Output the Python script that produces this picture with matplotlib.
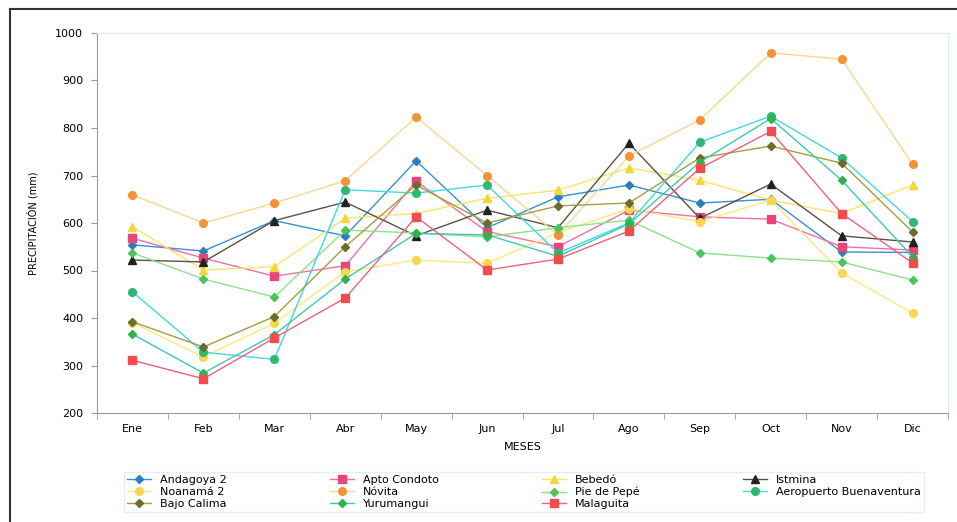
import numpy as np
import matplotlib
matplotlib.use("Agg")
from matplotlib import pyplot as plt
from matplotlib.lines import Line2D

meses = ["Ene", "Feb", "Mar", "Abr", "May", "Jun", "Jul", "Ago", "Sep", "Oct", "Nov", "Dic"]

andagoya = [554, 541, 605, 573, 731, 590, 655, 680, 642, 650, 539, 538]
apto_condoto = [568, 526, 488, 510, 688, 582, 550, 627, 613, 608, 550, 543]
bebedo = [592, 501, 508, 610, 620, 652, 669, 716, 690, 648, 620, 680]
istmina = [522, 518, 605, 644, 573, 627, 590, 768, 610, 682, 573, 560]
noanama = [390, 318, 389, 497, 522, 515, 580, 630, 603, 648, 495, 410]
novita = [659, 600, 642, 689, 823, 700, 575, 741, 817, 958, 945, 724]
pie_pepe = [537, 482, 444, 585, 579, 571, 590, 606, 537, 526, 518, 480]
aeropuerto = [455, 328, 313, 670, 663, 680, 537, 600, 770, 825, 737, 603]
bajo_calima = [392, 339, 403, 550, 680, 600, 636, 642, 737, 762, 726, 581]
yurumangui = [366, 284, 365, 482, 578, 575, 530, 598, 728, 820, 690, 529]
malaguita = [311, 272, 358, 442, 613, 501, 524, 583, 715, 793, 620, 516]

# name, data, line color, marker, marker color
series = [
    ("Andagoya 2", andagoya, "#3a8fd0", "D", "#2a7fc0"),
    ("Apto Condoto", apto_condoto, "#f070a8", "s", "#e8457a"),
    ("Bebedó", bebedo, "#f8e66a", "^", "#f5d63a"),
    ("Istmina", istmina, "#555544", "^", "#222222"),
    ("Noanamá 2", noanama, "#fbe880", "o", "#f8d64e"),
    ("Nóvita", novita, "#f6d890", "o", "#f39237"),
    ("Pie de Pepé", pie_pepe, "#8ee08a", "D", "#4cc45a"),
    ("Aeropuerto Buenaventura", aeropuerto, "#40d8e8", "o", "#2eb872"),
    ("Bajo Calima", bajo_calima, "#a0a040", "D", "#6b6b2a"),
    ("Yurumangui", yurumangui, "#40c8b0", "D", "#2db34a"),
    ("Malaguita", malaguita, "#f06080", "s", "#f04e4e"),
]

fig = plt.figure(figsize=(9.57, 5.22), dpi=100)
ax = fig.add_axes([97 / 957, 1 - 413 / 522, (948 - 97) / 957, (413 - 33) / 522])

x = np.arange(len(meses))
handles = {}
for name, data, lc, mk, mc in series:
    ms = 5.5 if mk in ("s", "o", "^") else 4.5
    h, = ax.plot(x, data, color=lc, lw=1.0, marker=mk, ms=ms,
                 markerfacecolor=mc, markeredgecolor=mc, label=name)
    handles[name] = h

ax.set_xlim(-0.5, 11.5)
ax.set_ylim(200, 1000)
ax.set_yticks(range(200, 1001, 100))
ax.set_xticks(x)
ax.set_xticklabels(meses)
ax.set_xticks(np.arange(-0.5, 12, 1), minor=True)
ax.tick_params(axis="x", which="major", length=0, labelsize=8, pad=8)
ax.tick_params(axis="x", which="minor", length=4, color="#999999")
ax.tick_params(axis="y", length=4, color="#999999", labelsize=8, pad=6)

for s in ["left", "bottom"]:
    ax.spines[s].set_color("#999999")
for s in ["top", "right"]:
    ax.spines[s].set_color("#d8eef0")

ax.set_xlabel("MESES", fontsize=8, labelpad=6)
ax.set_ylabel("PRECIPITACIÓN (mm)", fontsize=7, labelpad=12)

# legend in row order like the original
order = ["Andagoya 2", "Noanamá 2", "Bajo Calima",
         "Apto Condoto", "Nóvita", "Yurumangui",
         "Bebedó", "Pie de Pepé", "Malaguita",
         "Istmina", "Aeropuerto Buenaventura"]
leg = fig.legend([handles[n] for n in order], order, ncol=4,
                 loc="lower left", mode="expand",
                 bbox_to_anchor=(118 / 957, 4 / 522, 812 / 957, 56 / 522),
                 fontsize=8, frameon=True, fancybox=False,
                 handlelength=2.2, borderpad=0.3, labelspacing=0.15,
                 columnspacing=1.0)
leg.get_frame().set_edgecolor("#d8eef0")
leg.get_frame().set_linewidth(1.0)

# outer chart frame
fig.add_artist(Line2D([10 / 957, 1.0], [1 - 9 / 522, 1 - 9 / 522],
                      transform=fig.transFigure, color="#333333", lw=1.5))
fig.add_artist(Line2D([10 / 957, 10 / 957], [0, 1 - 9 / 522],
                      transform=fig.transFigure, color="#333333", lw=1.5))

fig.savefig("out.png", dpi=100)
